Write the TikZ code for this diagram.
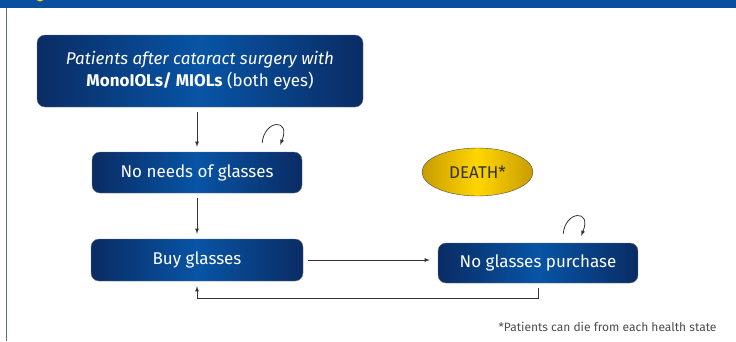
\documentclass[tikz,border=0pt]{standalone}
\usepackage{fontspec}
\setmainfont{Fira Sans}
\usepackage{tikz}
\usetikzlibrary{shapes.geometric}
\def\gap{5pt}
\definecolor{navy}{RGB}{10,44,100}
\definecolor{royal}{RGB}{8,84,166}
\definecolor{band}{RGB}{8,79,160}
\definecolor{rule}{RGB}{95,105,140}
\definecolor{gold}{RGB}{200,156,0}
\definecolor{lemon}{RGB}{255,214,0}

\begin{document}
\begin{tikzpicture}[x=1pt,y=-1pt,>=latex,font=\fontsize{17}{22}\selectfont]
	\tikzstyle{state}=[rectangle,rounded corners=8pt,draw=black!55,left color=navy,right color=navy,middle color=royal,text=white,inner sep=0pt,align=center]
	\tikzstyle{death}=[ellipse,draw=black!70,left color=gold,right color=gold,middle color=lemon,text=black!80,minimum width=111pt,minimum height=48pt,inner sep=0pt]
	\tikzstyle{link}=[->,draw=black!80,line width=0.8pt,shorten >=\gap,shorten <=\gap]
	\tikzstyle{annot}=[anchor=base east,text=black!70,font=\fontsize{12}{14}\selectfont]

	\useasboundingbox (0,0) rectangle (736,341);

	% Draw the frame
	\fill[band] (0,0) rectangle (736,8);
	\begin{scope}
	\clip (0,0) rectangle (736,8);
	\fill[lemon] (40,-3) circle (4.5);
	\end{scope}
	\draw[rule,line width=1pt] (6.5,8) -- (6.5,341);

	% Draw the health states
	\node[state,minimum width=326pt,minimum height=72pt] (P) at (200,71)
	{\textit{Patients after cataract surgery with}\\\textbf{MonoIOLs/ MIOLs} (both eyes)};
	\node[state,minimum width=210pt,minimum height=41pt] (N) at (197,172.5) {No needs of glasses};
	\node[state,minimum width=212pt,minimum height=42pt] (B) at (197,260) {Buy glasses};
	\node[state,minimum width=200pt,minimum height=40pt] (NP) at (538,263) {No glasses purchase};
	\node[death] (D) at (477.5,172) {DEATH*};

	% Connect the states
	\draw[link] (N.north |- P.south) -- (N.north);
	\draw[link] (N) -- (B);
	\draw[link,shorten >=8pt] (B.east) -- (B.east -| NP.west);
	\draw[link] (NP.south) -- ++(0,15) -| (B.south);

	% Stay in the same state
	\foreach \name / \dx in {N/-40,NP/-75}
	\draw[->,draw=black!80,line width=0.8pt] ([xshift=\dx pt,yshift=9pt]\name.north east)
	.. controls +(2,-23) and +(11,-27) .. ++(18,2);

	% Annotate the death state
	\node[annot] (F) at (720,331) {*Patients can die from each health state};
\end{tikzpicture}
\end{document}
